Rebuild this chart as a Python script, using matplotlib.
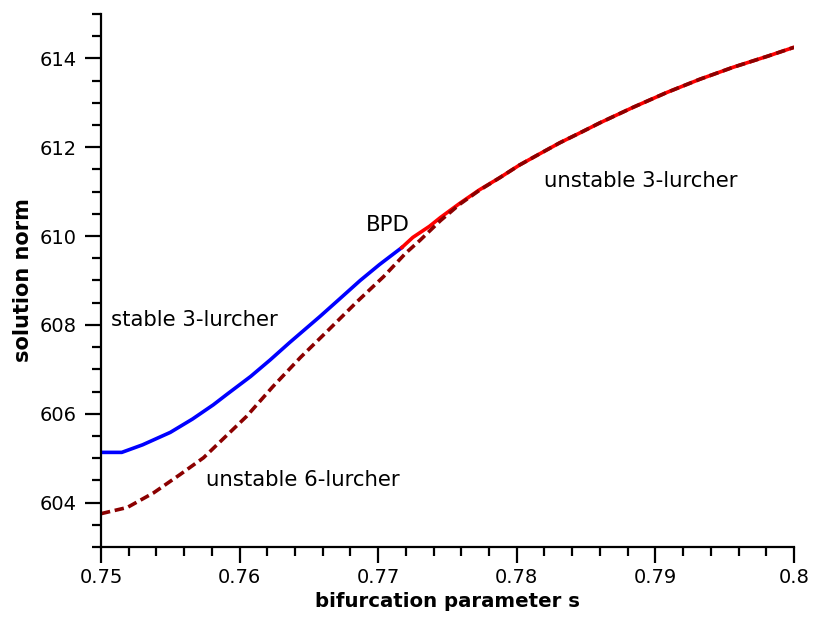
import numpy as np
import matplotlib.pyplot as plt
from matplotlib.ticker import MultipleLocator

# stable 3-lurcher branch (blue)
stable3_s = [0.75, 0.7515, 0.7530, 0.7550, 0.7566, 0.7581, 0.7591, 0.7608,
             0.7622, 0.7636, 0.7658, 0.7672, 0.7687, 0.7701, 0.7717]
stable3_y = [605.13, 605.13, 605.30, 605.58, 605.88, 606.20, 606.44, 606.84,
             607.21, 607.60, 608.19, 608.58, 609.00, 609.36, 609.74]

# unstable 3-lurcher branch (red), starting at the BPD
unstable3_s = [0.7717, 0.7725, 0.7737, 0.7745, 0.7759, 0.7773, 0.7788,
               0.7802, 0.7817, 0.7831, 0.7846, 0.7860, 0.7884, 0.7908,
               0.7932, 0.7956, 0.7981, 0.8]
unstable3_y = [609.74, 609.97, 610.22, 610.42, 610.74, 611.04, 611.32,
               611.60, 611.86, 612.10, 612.33, 612.55, 612.90, 613.23,
               613.53, 613.80, 614.05, 614.25]

# unstable 6-lurcher branch (dark red, dashed)
unstable6_s = [0.75, 0.7519, 0.7538, 0.7557, 0.7574, 0.7593, 0.7605, 0.7624,
               0.7644, 0.7663, 0.7685, 0.7704, 0.7720, 0.7730, 0.7745, 0.7759,
               0.7773, 0.7788, 0.7802, 0.7817, 0.7831, 0.7846, 0.7860,
               0.7884, 0.7908, 0.7932, 0.7956, 0.7981, 0.8]
unstable6_y = [603.75, 603.89, 604.22, 604.63, 605.01, 605.58, 605.94, 606.61,
               607.27, 607.85, 608.53, 609.09, 609.62, 609.90, 610.35, 610.72,
               611.03, 611.32, 611.60, 611.86, 612.10, 612.33, 612.55,
               612.90, 613.23, 613.53, 613.80, 614.05, 614.25]

plt.rcParams['font.family'] = 'DejaVu Sans'
fig = plt.figure(figsize=(8.15, 6.22), dpi=100)
ax = fig.add_axes([0.1239, 0.1206, 0.8503, 0.8569])

ax.plot(stable3_s, stable3_y, color='#0000ff', lw=2.6)
ax.plot(unstable3_s, unstable3_y, color='#ff0000', lw=2.6)
ax.plot(unstable6_s, unstable6_y, color='#8b0000', lw=2.6, ls=(0, (2.6, 1.3)))

ax.text(0.7507, 608.12, 'stable 3-lurcher', fontsize=15.3, va='center')
ax.text(0.7691, 610.26, 'BPD', fontsize=15.3, va='center')
ax.text(0.7820, 611.23, 'unstable 3-lurcher', fontsize=15.3, va='center')
ax.text(0.7576, 604.5, 'unstable 6-lurcher', fontsize=15.3, va='center')

ax.set_xlim(0.75, 0.8)
ax.set_ylim(603, 615)
ax.xaxis.set_minor_locator(MultipleLocator(0.002))
ax.yaxis.set_major_locator(MultipleLocator(2))
ax.yaxis.set_minor_locator(MultipleLocator(0.5))
ax.set_xticks([0.75, 0.76, 0.77, 0.78, 0.79, 0.8])
ax.set_xticklabels(['0.75', '0.76', '0.77', '0.78', '0.79', '0.8'])

for side in ['top', 'right']:
    ax.spines[side].set_visible(False)
for side in ['left', 'bottom']:
    ax.spines[side].set_linewidth(1.6)
ax.tick_params(which='major', length=11.5, width=1.6, labelsize=14, direction='out')
ax.tick_params(which='minor', length=6.5, width=1.6, direction='out')
ax.tick_params(axis='y', which='major', pad=6)

ax.set_xlabel('bifurcation parameter s', fontsize=14.2, fontweight='bold', labelpad=4)
ax.set_ylabel('solution norm', fontsize=15, fontweight='bold', labelpad=5)

fig.savefig('out.png', dpi=100)
